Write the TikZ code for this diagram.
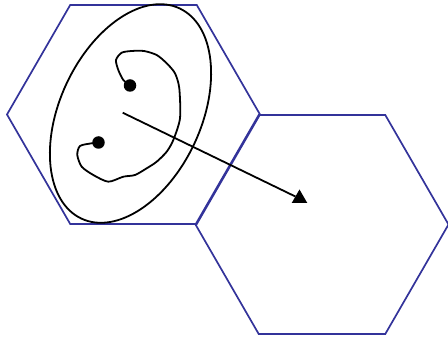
\documentclass[tikz,border=0pt]{standalone}
\usepackage{tikz}
\usepackage{xcolor}
\usetikzlibrary{shapes.geometric}
\definecolor{hexblue}{HTML}{33339A}
\definecolor{ink}{HTML}{000000}

\begin{document}
\begin{tikzpicture}[
    x=1pt, y=-1pt,
    hexcell/.style={regular polygon, regular polygon sides=6, draw=hexblue,
                    line width=1.7pt, minimum size=253pt, inner sep=0pt, outer sep=0pt},
    spot/.style={circle, fill=ink, minimum size=12.5pt, inner sep=0pt},
    tiphead/.style={regular polygon, regular polygon sides=3, fill=ink,
                    minimum size=18pt, inner sep=0pt, outer sep=0pt},
    stroke/.style={ink, line width=1.8pt}
  ]
    \useasboundingbox (0,0) rectangle (448,339);

    % the two cells
    \node[hexcell] (cellA) at (133.5,114.5) {};
    \node[hexcell] (cellB) at (322,224.5) {};

    % region round the pair
    \draw[stroke, rotate around={65:(130.5,113.5)}]
      (130.5,113.5) ellipse [x radius=116, y radius=70.6];

    % the two points and the path between them
    \node[spot] (dotA) at (130,85.5) {};
    \node[spot] (dotB) at (98.5,142.5) {};
    \draw[stroke, line join=round] plot[smooth, tension=0.45] coordinates {
      (dotA) (123.3,80) (118.3,70) (116,60) (121.7,52.7) (131.7,51) (144,51)
      (156.7,55) (166.7,63.3) (175,73.3) (179.3,88.3) (180,118.3) (173.3,140)
      (166.7,151.7) (156.7,161.7) (146.7,168.3) (135,175) (123.3,176.7)
      (108.3,181.7) (93.3,175) (81.7,166.7) (77.3,155) (80,146) (91.7,143.3) (dotB)};

    % move to the next cell
    \coordinate (from) at (122.7,112.7);
    \node[tiphead] (tip) at (299.5,198.5) {};
    \draw[stroke] (from) -- (tip);
\end{tikzpicture}
\end{document}
